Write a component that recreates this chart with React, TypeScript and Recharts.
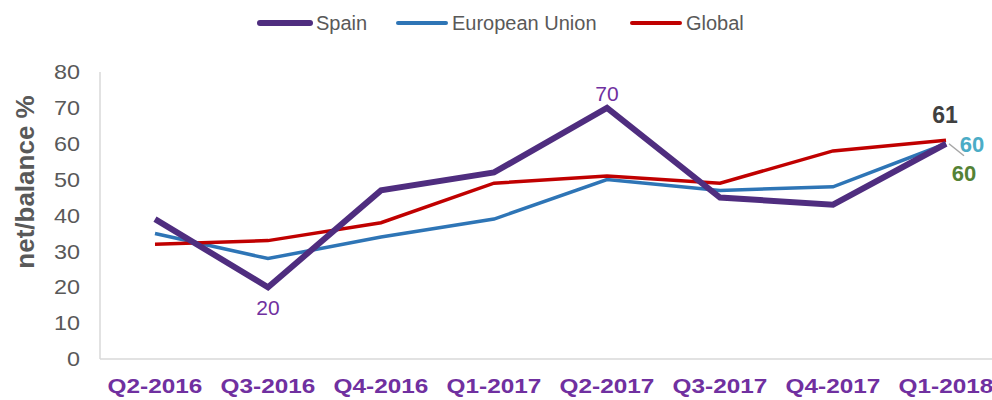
import React from 'react';
import { LineChart, Line, XAxis, YAxis, Legend, LabelList, Label } from 'recharts';

const categories = ['Q2-2016', 'Q3-2016', 'Q4-2016', 'Q1-2017', 'Q2-2017', 'Q3-2017', 'Q4-2017', 'Q1-2018'];
const spain = [39, 20, 47, 52, 70, 45, 43, 60];
const europeanUnion = [35, 28, 34, 39, 50, 47, 48, 60];
const globalSeries = [32, 33, 38, 49, 51, 49, 58, 61];
const yTicks = [0, 10, 20, 30, 40, 50, 60, 70, 80];

const data = categories.map((c, i) => ({
  name: c,
  spain: spain[i],
  eu: europeanUnion[i],
  global: globalSeries[i],
}));

const FONT = '"Liberation Sans", Arial, sans-serif';

const XTick = (props: any) => {
  const { x, y, payload } = props;
  return (
    <g transform={`translate(${x},${y})`}>
      <text transform="scale(1.16,1)" y={34} textAnchor="middle" fill="#7030A0" fontSize={21} fontWeight="bold" fontFamily={FONT}>
        {payload.value}
      </text>
    </g>
  );
};

const YTick = (props: any) => {
  const { x, y, payload } = props;
  return (
    <g transform={`translate(${x},${y})`}>
      <text transform="scale(1.17,1)" dy="0.36em" textAnchor="end" fill="#595959" fontSize={20} fontFamily={FONT}>
        {payload.value}
      </text>
    </g>
  );
};

const SpainLabel = (props: any) => {
  const { x, y, index, value } = props;
  if (index === 1) {
    return (
      <text x={x} y={y + 28} textAnchor="middle" fill="#7030A0" fontSize={21} fontFamily={FONT}>{value}</text>
    );
  }
  if (index === 4) {
    return (
      <text x={x} y={y - 7} textAnchor="middle" fill="#7030A0" fontSize={21} fontFamily={FONT}>{value}</text>
    );
  }
  if (index === 7) {
    return (
      <g>
        <line x1={x + 3} y1={y} x2={x + 18} y2={y + 12} stroke="#A6A6A6" strokeWidth={1.5} />
        <text x={x + 18} y={y + 37} textAnchor="middle" fill="#548235" fontSize={22} fontWeight="bold" fontFamily={FONT}>{value}</text>
      </g>
    );
  }
  return null;
};

const EuLabel = (props: any) => {
  const { x, y, index, value } = props;
  if (index !== 7) return null;
  return (
    <text x={x + 26} y={y + 8} textAnchor="middle" fill="#4BACC6" fontSize={22} fontWeight="bold" fontFamily={FONT}>{value}</text>
  );
};

const GlobalLabel = (props: any) => {
  const { x, y, index, value } = props;
  if (index !== 7) return null;
  return (
    <text x={x - 1} y={y - 17} textAnchor="middle" fill="#404040" fontSize={23} fontWeight="bold" fontFamily={FONT}>{value}</text>
  );
};

const legendItems = [
  { label: 'Spain', color: '#4F2D7F', lineLeft: 257, lineWidth: 56, thick: 6, textLeft: 316 },
  { label: 'European Union', color: '#2E75B6', lineLeft: 396, lineWidth: 52, thick: 4, textLeft: 452 },
  { label: 'Global', color: '#C00000', lineLeft: 630, lineWidth: 52, thick: 4, textLeft: 686 },
];

const LegendContent = () => (
  <div style={{ position: 'relative', width: 992, height: 45, fontFamily: FONT }}>
    {legendItems.map((it) => (
      <React.Fragment key={it.label}>
        <div
          style={{
            position: 'absolute',
            left: it.lineLeft,
            top: 23 - it.thick / 2,
            width: it.lineWidth,
            height: it.thick,
            borderRadius: it.thick / 2,
            background: it.color,
          }}
        />
        <div
          style={{
            position: 'absolute',
            left: it.textLeft,
            top: 11,
            fontSize: 20,
            lineHeight: '24px',
            color: '#595959',
            whiteSpace: 'nowrap',
          }}
        >
          {it.label}
        </div>
      </React.Fragment>
    ))}
  </div>
);

const YAxisTitle = () => (
  <text
    transform="translate(34,182) rotate(-90)"
    textAnchor="middle"
    fill="#595959"
    fontSize={26}
    fontWeight="bold"
    fontFamily={FONT}
  >
    net/balance %
  </text>
);

export default function App() {
  return (
    <div style={{ position: 'absolute', top: 0, left: 0, width: 992, height: 400, overflow: 'hidden', background: '#fff' }}>
      <LineChart width={1004} height={400} data={data} margin={{ top: 72, right: 1, bottom: 0, left: 0 }}>
        <XAxis
          dataKey="name"
          axisLine={{ stroke: '#D9D9D9', strokeWidth: 1.5 }}
          tickLine={false}
          tickSize={0}
          tickMargin={0}
          height={41}
          padding={{ left: 55, right: 57 }}
          tick={<XTick />}
          interval={0}
        />
        <YAxis
          domain={[0, 80]}
          ticks={yTicks}
          width={100}
          axisLine={{ stroke: '#D9D9D9', strokeWidth: 1.5 }}
          tickLine={false}
          tickSize={0}
          tickMargin={20}
          tick={<YTick />}
          interval={0}
        >
          <Label content={<YAxisTitle />} />
        </YAxis>
        <Legend verticalAlign="middle" align="center" layout="horizontal" wrapperStyle={{ top: 0, left: 0, width: 992 }} content={<LegendContent />} />
        <Line type="linear" dataKey="eu" stroke="#2E75B6" strokeWidth={3.5} dot={false} isAnimationActive={false}>
          <LabelList dataKey="eu" content={<EuLabel />} />
        </Line>
        <Line type="linear" dataKey="global" stroke="#C00000" strokeWidth={3.5} dot={false} isAnimationActive={false}>
          <LabelList dataKey="global" content={<GlobalLabel />} />
        </Line>
        <Line type="linear" dataKey="spain" stroke="#4F2D7F" strokeWidth={6} dot={false} isAnimationActive={false}>
          <LabelList dataKey="spain" content={<SpainLabel />} />
        </Line>
      </LineChart>
    </div>
  );
}
